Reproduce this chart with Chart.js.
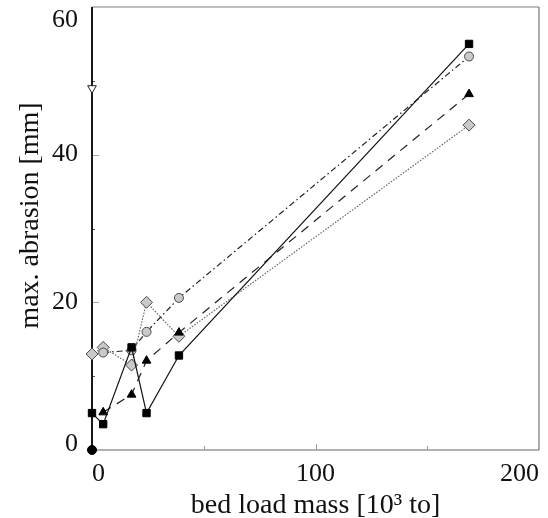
<!DOCTYPE html>
<html>
<head>
<meta charset="utf-8">
<script src="https://cdn.jsdelivr.net/npm/chart.js@4"></script>
<style>
  html, body { margin: 0; padding: 0; background: #fff; }
  #wrap { width: 548px; height: 518px; }
</style>
</head>
<body>
<div id="wrap"><canvas id="c" width="548" height="518"></canvas></div>
<script>
// bed load mass [10^3 t] at which abrasion was measured
const bedLoad = [0, 5, 17.7, 24.4, 38.9, 168.7];
// max. abrasion [mm] per measuring point
const abrasionSquare   = [5.0, 3.5, 13.9, 5.0, 12.8, 55.0];
const abrasionCircle   = [null, 13.2, 13.5, 16.0, 20.6, 53.3];
const abrasionTriangle = [null, 5.1, 7.5, 12.1, 15.9, 48.2];
const abrasionDiamond  = [13.0, 13.9, 11.5, 20.0, 15.4, 44.0];
// single readings at zero bed load
const originBedLoad = [0];
const originAbrasion = [0];
const openTriBedLoad = [0];
const openTriAbrasion = [49];

const xTicks = [0, 100, 200];
const xMinorTicks = [50, 150];
const yTicks = [0, 20, 40, 60];
const yMinorTicks = [10, 30, 50];

const SERIF = '"Liberation Serif", "Times New Roman", serif';

function pairs(xs, ys) {
  const out = [];
  xs.forEach((x, i) => { if (ys[i] !== null && ys[i] !== undefined) out.push({ x: x, y: ys[i] }); });
  return out;
}

const GRAY_FILL = '#c9c9c9';
const GRAY_EDGE = '#4a4a4a';

const datasets = [
  {
    label: 'diamond',
    data: pairs(bedLoad, abrasionDiamond),
    showLine: true, borderColor: '#666', borderWidth: 1.2, borderDash: [1.5, 1.5],
    pointStyle: 'rectRot', pointRadius: 6, pointBackgroundColor: GRAY_FILL,
    pointBorderColor: GRAY_EDGE, pointBorderWidth: 1, clip: false, order: 4
  },
  {
    label: 'triangle',
    data: pairs(bedLoad, abrasionTriangle),
    showLine: true, borderColor: '#222', borderWidth: 1.2, borderDash: [9, 7],
    pointStyle: 'triangle', pointRadius: 5, pointBackgroundColor: '#000',
    pointBorderColor: '#000', pointBorderWidth: 1, clip: false, order: 3
  },
  {
    label: 'circle',
    data: pairs(bedLoad, abrasionCircle),
    showLine: true, borderColor: '#222', borderWidth: 1.2, borderDash: [6, 3, 1.5, 3],
    pointStyle: 'circle', pointRadius: 4.5, pointBackgroundColor: GRAY_FILL,
    pointBorderColor: GRAY_EDGE, pointBorderWidth: 1, clip: false, order: 2
  },
  {
    label: 'square',
    data: pairs(bedLoad, abrasionSquare),
    showLine: true, borderColor: '#111', borderWidth: 1.2,
    pointStyle: 'rect', pointRadius: 5.2, pointBackgroundColor: '#000',
    pointBorderColor: '#000', pointBorderWidth: 1, clip: false, order: 1
  },
  {
    label: 'origin',
    data: pairs(originBedLoad, originAbrasion),
    showLine: false, pointStyle: 'circle', pointRadius: 4.5,
    pointBackgroundColor: '#000', pointBorderColor: '#000', clip: false, order: 0
  },
  {
    label: 'open triangle',
    data: pairs(openTriBedLoad, openTriAbrasion),
    showLine: false, pointStyle: 'triangle', pointRotation: 180, pointRadius: 5,
    pointBackgroundColor: '#fff', pointBorderColor: '#222', pointBorderWidth: 1,
    clip: false, order: 0
  }
];

// plot frame and inward tick marks, drawn beneath the markers
const framePlugin = {
  id: 'frame',
  beforeDatasetsDraw(chart) {
    const { ctx, chartArea: a, scales: { x, y } } = chart;
    ctx.save();
    ctx.lineWidth = 1.5;
    ctx.strokeStyle = '#a8a8a8';
    ctx.beginPath(); ctx.moveTo(a.left, a.top); ctx.lineTo(a.right, a.top); ctx.stroke();
    ctx.strokeStyle = '#999';
    ctx.beginPath(); ctx.moveTo(a.left, a.bottom); ctx.lineTo(a.right, a.bottom); ctx.stroke();
    ctx.strokeStyle = '#777';
    ctx.lineWidth = 1.2;
    ctx.beginPath(); ctx.moveTo(a.right, a.top); ctx.lineTo(a.right, a.bottom); ctx.stroke();

    // x ticks
    ctx.strokeStyle = '#999'; ctx.lineWidth = 1;
    xTicks.forEach(v => {
      if (v <= x.min || v >= x.max) return;
      const p = Math.round(x.getPixelForValue(v)) + 0.5;
      ctx.beginPath(); ctx.moveTo(p, a.bottom); ctx.lineTo(p, a.bottom - 6); ctx.stroke();
    });
    xMinorTicks.forEach(v => {
      const p = Math.round(x.getPixelForValue(v)) + 0.5;
      ctx.beginPath(); ctx.moveTo(p, a.bottom); ctx.lineTo(p, a.bottom - 4); ctx.stroke();
    });
    // y ticks
    yTicks.forEach(v => {
      if (v <= y.min || v >= y.max) return;
      const p = Math.round(y.getPixelForValue(v)) + 0.5;
      ctx.strokeStyle = '#aaa';
      ctx.beginPath(); ctx.moveTo(a.left, p); ctx.lineTo(a.left + 7, p); ctx.stroke();
    });
    yMinorTicks.forEach(v => {
      const p = Math.round(y.getPixelForValue(v)) + 0.5;
      ctx.strokeStyle = '#555';
      ctx.beginPath(); ctx.moveTo(a.left, p); ctx.lineTo(a.left + 3, p); ctx.stroke();
    });

    // left axis
    ctx.strokeStyle = '#1a1a1a'; ctx.lineWidth = 2;
    ctx.beginPath(); ctx.moveTo(a.left, a.top); ctx.lineTo(a.left, a.bottom); ctx.stroke();
    ctx.restore();
  },
  afterDraw(chart) {
    const { ctx, chartArea: a, scales: { y } } = chart;
    ctx.save();
    ctx.font = '26px ' + SERIF;
    ctx.fillStyle = '#111';
    ctx.textAlign = 'right';
    ctx.textBaseline = 'middle';
    yTicks.forEach(v => {
      let p = y.getPixelForValue(v);
      p = Math.min(Math.max(p, a.top + 13.5), a.bottom - 6);
      ctx.fillText(String(v), a.left - 14, p);
    });
    ctx.font = '28px ' + SERIF;
    ctx.translate(31, (a.top + a.bottom) / 2 - 13);
    ctx.rotate(-Math.PI / 2);
    ctx.textAlign = 'center';
    ctx.fillText('max. abrasion [mm]', 0, 0);
    ctx.restore();
  }
};

new Chart(document.getElementById('c'), {
  type: 'scatter',
  data: { datasets: datasets },
  plugins: [framePlugin],
  options: {
    responsive: false,
    devicePixelRatio: 1,
    animation: false,
    layout: { padding: 0 },
    plugins: { legend: { display: false }, tooltip: { enabled: false } },
    scales: {
      x: {
        type: 'linear', position: 'bottom', min: 0, max: 200,
        afterBuildTicks(scale) { scale.ticks = xTicks.map(v => ({ value: v })); },
        afterFit(scale) { scale.height = 68; },
        grid: { display: false, drawTicks: false },
        border: { display: false },
        ticks: {
          align: 'inner', padding: 9, color: '#111',
          font: { family: SERIF, size: 26 },
          maxRotation: 0, autoSkip: false
        },
        title: {
          display: true, text: 'bed load mass [10\u00b3 to]', color: '#111',
          font: { family: SERIF, size: 28, lineHeight: 1 },
          padding: { top: 0, bottom: -2 }
        }
      },
      y: {
        type: 'linear', position: 'left', min: 0, max: 60,
        afterFit(scale) { scale.width = 92; },
        grid: { display: false, drawTicks: false },
        border: { display: false },
        ticks: { display: false }
      }
    }
  }
});
</script>
</body>
</html>
